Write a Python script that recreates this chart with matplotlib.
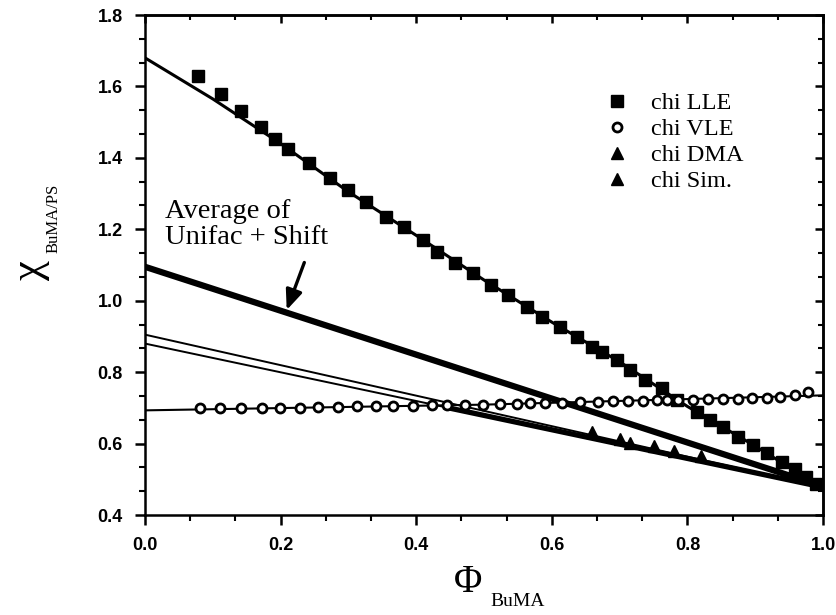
import matplotlib
matplotlib.use("Agg")
import matplotlib.pyplot as plt
from matplotlib.ticker import MultipleLocator, AutoMinorLocator, FormatStrFormatter
from matplotlib.lines import Line2D

# ---------------- data ----------------
lle_x = [0.078, 0.112, 0.141, 0.171, 0.192, 0.211, 0.242, 0.273, 0.299, 0.326,
         0.355, 0.382, 0.410, 0.431, 0.457, 0.484, 0.511, 0.535, 0.563, 0.585,
         0.612, 0.637, 0.659, 0.674, 0.696, 0.715, 0.737, 0.762, 0.784, 0.814,
         0.833, 0.853, 0.875, 0.897, 0.917, 0.939, 0.958, 0.975, 0.990]
lle_y = [1.628, 1.579, 1.530, 1.487, 1.453, 1.425, 1.386, 1.344, 1.310, 1.277,
         1.235, 1.207, 1.170, 1.137, 1.106, 1.078, 1.044, 1.016, 0.983, 0.955,
         0.927, 0.899, 0.871, 0.857, 0.834, 0.806, 0.778, 0.756, 0.722, 0.689,
         0.666, 0.647, 0.619, 0.596, 0.573, 0.549, 0.528, 0.507, 0.488]

lle_fit_x = [0.0, 0.1, 0.2, 0.3, 0.4, 0.5, 0.6, 0.7, 0.8, 0.9, 1.0]
lle_fit_y = [1.68, 1.565, 1.44, 1.305, 1.183, 1.058, 0.94, 0.829, 0.704, 0.593, 0.475]

vle_x = [0.081, 0.111, 0.141, 0.172, 0.199, 0.228, 0.255, 0.284, 0.313, 0.341,
         0.366, 0.395, 0.423, 0.445, 0.472, 0.499, 0.524, 0.549, 0.568, 0.590,
         0.615, 0.642, 0.668, 0.690, 0.712, 0.735, 0.755, 0.770, 0.786, 0.808,
         0.830, 0.853, 0.875, 0.895, 0.917, 0.937, 0.959, 0.978]
vle_y = [0.700, 0.700, 0.700, 0.700, 0.701, 0.701, 0.702, 0.703, 0.705, 0.705,
         0.706, 0.706, 0.707, 0.708, 0.708, 0.709, 0.711, 0.712, 0.713, 0.714,
         0.715, 0.716, 0.717, 0.718, 0.719, 0.720, 0.721, 0.722, 0.722, 0.723,
         0.724, 0.725, 0.726, 0.727, 0.728, 0.730, 0.735, 0.745]

vle_fit_x = [0.0, 0.5, 1.0]
vle_fit_y = [0.693, 0.709, 0.735]

dma_x = [0.66, 0.715, 0.78]
dma_y = [0.632, 0.603, 0.578]
sim_x = [0.70, 0.75, 0.82]
sim_y = [0.612, 0.592, 0.566]

avg_x = [0.0, 1.0]
avg_y = [1.095, 0.48]

thinA_x = [0.0, 1.0]
thinA_y = [0.905, 0.478]
thinB_x = [0.0, 1.0]
thinB_y = [0.880, 0.478]
thick_x = [0.44, 1.0]
thick_y = [0.703, 0.478]

arrow_tail = (0.235, 1.107)
arrow_tip = (0.209, 0.974)

# ---------------- figure ----------------
W, H = 836, 615
fig = plt.figure(figsize=(W / 100, H / 100), dpi=100)
ax = fig.add_axes([145 / W, 1 - 515 / H, 678 / W, 500 / H])

ax.plot(lle_fit_x, lle_fit_y, color="black", lw=2.2, zorder=2)
ax.plot(vle_fit_x, vle_fit_y, color="black", lw=1.5, zorder=2)
ax.plot(avg_x, avg_y, color="black", lw=4.5, solid_capstyle="butt", zorder=2)
ax.plot(thinA_x, thinA_y, color="black", lw=1.4, zorder=2)
ax.plot(thinB_x, thinB_y, color="black", lw=1.4, zorder=2)
ax.plot(thick_x, thick_y, color="black", lw=3.8, solid_capstyle="butt", zorder=2)

ax.plot(lle_x, lle_y, "s", color="black", ms=8.5, zorder=3)
ax.plot(vle_x, vle_y, "o", mfc="white", mec="black", mew=2.0, ms=6.5, zorder=3)
ax.plot(dma_x, dma_y, "^", color="black", ms=9, zorder=3)
ax.plot(sim_x, sim_y, "^", color="black", ms=9, zorder=3)

serif = ["Liberation Serif", "DejaVu Serif"]

ax.annotate("", xy=arrow_tip, xytext=arrow_tail,
            arrowprops=dict(arrowstyle="-|>,head_length=1.2,head_width=0.5",
                            color="black", lw=2.4, shrinkA=0, shrinkB=0))
ax.text(0.03, 1.143, "Average of\nUnifac + Shift", family=serif, fontsize=20.5,
        ha="left", va="bottom", linespacing=1.05)

handles = [
    Line2D([], [], ls="none", marker="s", color="black", ms=8.5),
    Line2D([], [], ls="none", marker="o", mfc="white", mec="black", mew=2.0, ms=6.5),
    Line2D([], [], ls="none", marker="^", color="black", ms=9),
    Line2D([], [], ls="none", marker="^", color="black", ms=9),
]
labels = ["chi LLE", "chi VLE", "chi DMA", "chi Sim."]
ax.legend(handles, labels, loc="upper left", bbox_to_anchor=(0.678, 0.846),
          frameon=False, borderpad=0, handlelength=1.0, handletextpad=0.9,
          labelspacing=0.17, borderaxespad=0,
          prop=dict(family=serif, size=17.5))

ax.set_xlim(0, 1)
ax.set_ylim(0.4, 1.8)
ax.xaxis.set_major_locator(MultipleLocator(0.2))
ax.yaxis.set_major_locator(MultipleLocator(0.2))
ax.xaxis.set_minor_locator(AutoMinorLocator(3))
ax.yaxis.set_minor_locator(AutoMinorLocator(3))
ax.xaxis.set_major_formatter(FormatStrFormatter("%.1f"))
ax.yaxis.set_major_formatter(FormatStrFormatter("%.1f"))

for sp in ax.spines.values():
    sp.set_linewidth(1.8)

ax.tick_params(which="major", direction="out", length=7, width=1.8, pad=9,
               labelsize=13)
ax.tick_params(which="minor", direction="out", length=4, width=1.5)
for lab in ax.get_xticklabels() + ax.get_yticklabels():
    lab.set_fontweight("bold")
    lab.set_family(["Liberation Sans", "DejaVu Sans"])

secx = ax.secondary_xaxis("top")
secx.xaxis.set_major_locator(MultipleLocator(0.2))
secx.xaxis.set_minor_locator(AutoMinorLocator(3))
secx.tick_params(which="major", direction="in", length=6, width=1.8, labeltop=False)
secx.tick_params(which="minor", direction="in", length=3.5, width=1.5)
secx.spines["top"].set_linewidth(1.8)

secy = ax.secondary_yaxis("right")
secy.yaxis.set_major_locator(MultipleLocator(0.2))
secy.yaxis.set_minor_locator(AutoMinorLocator(3))
secy.tick_params(which="major", direction="in", length=6, width=1.8, labelright=False)
secy.tick_params(which="minor", direction="in", length=3.5, width=1.5)
secy.spines["right"].set_linewidth(1.8)

# axis labels
fig.text(30 / W, 1 - 270 / H, "\u03c7", family=serif, fontsize=32,
         rotation=90, ha="center", va="center")
fig.text(54 / W, 1 - 218 / H, "BuMA/PS", family=serif, fontsize=12,
         rotation=90, ha="center", va="center")
fig.text(468 / W, 1 - 582 / H, "\u03a6", family=serif, fontsize=28,
         ha="center", va="center")
fig.text(490 / W, 1 - 602 / H, "BuMA", family=serif, fontsize=14,
         ha="left", va="center")

fig.savefig("out.png", dpi=100)
